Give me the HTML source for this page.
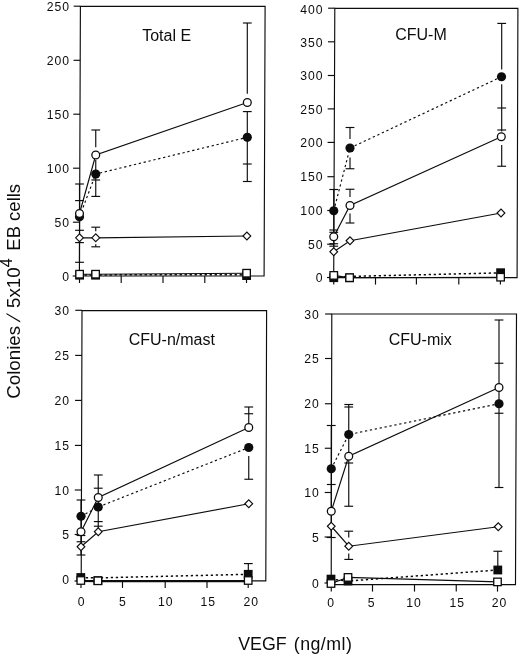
<!DOCTYPE html>
<html><head><meta charset="utf-8"><title>Figure</title>
<style>
html,body{margin:0;padding:0;background:#fff;}
svg{display:block;}
text{font-family:"Liberation Sans",sans-serif;fill:#0c0c0c;}
.tk{font-size:12.2px;letter-spacing:1px;}
.tt{font-size:16px;}
.ax{font-size:18.7px;}
.ax2{font-size:17.8px;}
</style></head><body>
<svg width="520" height="657" viewBox="0 0 520 657">
<rect width="520" height="657" fill="#fff"/>
<polygon points="80.4,6.3 265.1,6.3 264.1,276 79.4,276" fill="none" stroke="#0c0c0c" stroke-width="1.15"/>
<line x1="73.7" y1="6.2" x2="80.4" y2="6.2" stroke="#0c0c0c" stroke-width="1.15" />
<text x="70.1" y="10.9" text-anchor="end" class="tk">250</text>
<line x1="73.5" y1="60.3" x2="80.2" y2="60.3" stroke="#0c0c0c" stroke-width="1.15" />
<text x="70.1" y="65.0" text-anchor="end" class="tk">200</text>
<line x1="73.3" y1="114.2" x2="80.0" y2="114.2" stroke="#0c0c0c" stroke-width="1.15" />
<text x="70.1" y="118.9" text-anchor="end" class="tk">150</text>
<line x1="73.1" y1="168.2" x2="79.8" y2="168.2" stroke="#0c0c0c" stroke-width="1.15" />
<text x="70.1" y="172.9" text-anchor="end" class="tk">100</text>
<line x1="72.9" y1="222.2" x2="79.6" y2="222.2" stroke="#0c0c0c" stroke-width="1.15" />
<text x="70.1" y="226.9" text-anchor="end" class="tk">50</text>
<line x1="72.7" y1="276" x2="79.4" y2="276" stroke="#0c0c0c" stroke-width="1.15" />
<text x="70.1" y="280.7" text-anchor="end" class="tk">0</text>
<line x1="79.5" y1="276" x2="79.5" y2="283" stroke="#0c0c0c" stroke-width="1.15" />
<line x1="121.2" y1="276" x2="121.2" y2="283" stroke="#0c0c0c" stroke-width="1.15" />
<line x1="163" y1="276" x2="163" y2="283" stroke="#0c0c0c" stroke-width="1.15" />
<line x1="204.8" y1="276" x2="204.8" y2="283" stroke="#0c0c0c" stroke-width="1.15" />
<line x1="246.5" y1="276" x2="246.5" y2="283" stroke="#0c0c0c" stroke-width="1.15" />
<text x="142.2" y="40.5" class="tt">Total E</text>
<line x1="79.5" y1="184" x2="79.5" y2="262.3" stroke="#0c0c0c" stroke-width="1.15" />
<line x1="75.1" y1="184" x2="83.9" y2="184" stroke="#0c0c0c" stroke-width="1.15" />
<line x1="75.1" y1="200.6" x2="83.9" y2="200.6" stroke="#0c0c0c" stroke-width="1.15" />
<line x1="75.1" y1="230.3" x2="83.9" y2="230.3" stroke="#0c0c0c" stroke-width="1.15" />
<line x1="75.1" y1="242.6" x2="83.9" y2="242.6" stroke="#0c0c0c" stroke-width="1.15" />
<line x1="75.1" y1="262.3" x2="83.9" y2="262.3" stroke="#0c0c0c" stroke-width="1.15" />
<line x1="95.75" y1="130" x2="95.75" y2="147.2" stroke="#0c0c0c" stroke-width="1.15" />
<line x1="95.75" y1="160" x2="95.75" y2="196.4" stroke="#0c0c0c" stroke-width="1.15" />
<line x1="91.35" y1="130" x2="100.15" y2="130" stroke="#0c0c0c" stroke-width="1.15" />
<line x1="91.35" y1="180" x2="100.15" y2="180" stroke="#0c0c0c" stroke-width="1.15" />
<line x1="91.35" y1="196.4" x2="100.15" y2="196.4" stroke="#0c0c0c" stroke-width="1.15" />
<line x1="95.75" y1="227.2" x2="95.75" y2="231.2" stroke="#0c0c0c" stroke-width="1.15" />
<line x1="95.75" y1="244.3" x2="95.75" y2="246.8" stroke="#0c0c0c" stroke-width="1.15" />
<line x1="91.35" y1="227.2" x2="100.15" y2="227.2" stroke="#0c0c0c" stroke-width="1.15" />
<line x1="91.35" y1="246.8" x2="100.15" y2="246.8" stroke="#0c0c0c" stroke-width="1.15" />
<line x1="247.3" y1="23" x2="247.3" y2="93.7" stroke="#0c0c0c" stroke-width="1.15" />
<line x1="247.3" y1="111.4" x2="247.3" y2="181.5" stroke="#0c0c0c" stroke-width="1.15" />
<line x1="242.9" y1="23" x2="251.7" y2="23" stroke="#0c0c0c" stroke-width="1.15" />
<line x1="242.9" y1="111.6" x2="251.7" y2="111.6" stroke="#0c0c0c" stroke-width="1.15" />
<line x1="242.9" y1="164" x2="251.7" y2="164" stroke="#0c0c0c" stroke-width="1.15" />
<line x1="242.9" y1="181.5" x2="251.7" y2="181.5" stroke="#0c0c0c" stroke-width="1.15" />
<polyline points="79.6,274.9 95.6,274.9 246.6,274.7" fill="none" stroke="#0c0c0c" stroke-width="1.5" stroke-dasharray="2.3 2.7"/>
<polyline points="79.6,274.2 95.6,274.2 246.6,273.2" fill="none" stroke="#0c0c0c" stroke-width="1.15"/>
<polyline points="79.5,237.8 95.75,237.8 246.9,236" fill="none" stroke="#0c0c0c" stroke-width="1.15"/>
<polyline points="79.5,216.8 95.75,174 247.3,137.3" fill="none" stroke="#0c0c0c" stroke-width="1.15" stroke-dasharray="2.3 2.7"/>
<polyline points="79.5,213.5 95.75,155 247.3,102.5" fill="none" stroke="#0c0c0c" stroke-width="1.15"/>
<rect x="75.19999999999999" y="270.8" width="8.8" height="8.8" fill="#0c0c0c"/>
<rect x="91.19999999999999" y="270.8" width="8.8" height="8.8" fill="#0c0c0c"/>
<rect x="242.2" y="271.20000000000005" width="8.8" height="8.8" fill="#0c0c0c"/>
<rect x="75.85" y="270.45" width="7.5" height="7.5" fill="#fff" stroke="#0c0c0c" stroke-width="1.3"/>
<rect x="91.85" y="270.45" width="7.5" height="7.5" fill="#fff" stroke="#0c0c0c" stroke-width="1.3"/>
<rect x="242.85" y="269.45" width="7.5" height="7.5" fill="#fff" stroke="#0c0c0c" stroke-width="1.3"/>
<polygon points="75.6,237.8 79.5,233.9 83.4,237.8 79.5,241.70000000000002" fill="#fff" stroke="#0c0c0c" stroke-width="1.1"/>
<polygon points="91.85,237.8 95.75,233.9 99.65,237.8 95.75,241.70000000000002" fill="#fff" stroke="#0c0c0c" stroke-width="1.1"/>
<polygon points="243.0,236 246.9,232.1 250.8,236 246.9,239.9" fill="#fff" stroke="#0c0c0c" stroke-width="1.1"/>
<circle cx="79.5" cy="216.8" r="4.6" fill="#0c0c0c"/>
<circle cx="95.75" cy="174" r="4.6" fill="#0c0c0c"/>
<circle cx="247.3" cy="137.3" r="4.6" fill="#0c0c0c"/>
<circle cx="79.5" cy="213.5" r="3.9" fill="#fff" stroke="#0c0c0c" stroke-width="1.3"/>
<circle cx="95.75" cy="155" r="3.9" fill="#fff" stroke="#0c0c0c" stroke-width="1.3"/>
<circle cx="247.3" cy="102.5" r="3.9" fill="#fff" stroke="#0c0c0c" stroke-width="1.3"/>
<polygon points="334.8,8.3 517.9,8.3 517.1,277.6 333.7,277.6" fill="none" stroke="#0c0c0c" stroke-width="1.15"/>
<line x1="328.1" y1="8.2" x2="334.8" y2="8.2" stroke="#0c0c0c" stroke-width="1.15" />
<text x="323.6" y="14.4" text-anchor="end" class="tk">400</text>
<line x1="327.96" y1="41.8" x2="334.66" y2="41.8" stroke="#0c0c0c" stroke-width="1.15" />
<text x="323.6" y="46.5" text-anchor="end" class="tk">350</text>
<line x1="327.83" y1="75.5" x2="334.53" y2="75.5" stroke="#0c0c0c" stroke-width="1.15" />
<text x="323.6" y="80.2" text-anchor="end" class="tk">300</text>
<line x1="327.69" y1="108.9" x2="334.39" y2="108.9" stroke="#0c0c0c" stroke-width="1.15" />
<text x="323.6" y="113.6" text-anchor="end" class="tk">250</text>
<line x1="327.55" y1="142.4" x2="334.25" y2="142.4" stroke="#0c0c0c" stroke-width="1.15" />
<text x="323.6" y="147.1" text-anchor="end" class="tk">200</text>
<line x1="327.41" y1="176.7" x2="334.11" y2="176.7" stroke="#0c0c0c" stroke-width="1.15" />
<text x="323.6" y="181.4" text-anchor="end" class="tk">150</text>
<line x1="327.27" y1="210.5" x2="333.97" y2="210.5" stroke="#0c0c0c" stroke-width="1.15" />
<text x="323.6" y="215.2" text-anchor="end" class="tk">100</text>
<line x1="327.14" y1="244.2" x2="333.84" y2="244.2" stroke="#0c0c0c" stroke-width="1.15" />
<text x="323.6" y="248.9" text-anchor="end" class="tk">50</text>
<line x1="327.0" y1="277.5" x2="333.7" y2="277.5" stroke="#0c0c0c" stroke-width="1.15" />
<text x="323.6" y="282.2" text-anchor="end" class="tk">0</text>
<line x1="333.75" y1="277.6" x2="333.75" y2="284.6" stroke="#0c0c0c" stroke-width="1.15" />
<line x1="375.5" y1="277.6" x2="375.5" y2="284.6" stroke="#0c0c0c" stroke-width="1.15" />
<line x1="416.4" y1="277.6" x2="416.4" y2="284.6" stroke="#0c0c0c" stroke-width="1.15" />
<line x1="458.8" y1="277.6" x2="458.8" y2="284.6" stroke="#0c0c0c" stroke-width="1.15" />
<line x1="500.4" y1="277.6" x2="500.4" y2="284.6" stroke="#0c0c0c" stroke-width="1.15" />
<text x="395.2" y="39.5" class="tt">CFU-M</text>
<line x1="333.75" y1="189.5" x2="333.75" y2="246" stroke="#0c0c0c" stroke-width="1.15" />
<line x1="329.35" y1="189.5" x2="338.15" y2="189.5" stroke="#0c0c0c" stroke-width="1.15" />
<line x1="329.35" y1="230" x2="338.15" y2="230" stroke="#0c0c0c" stroke-width="1.15" />
<line x1="329.35" y1="232.3" x2="338.15" y2="232.3" stroke="#0c0c0c" stroke-width="1.15" />
<line x1="329.35" y1="243.75" x2="338.15" y2="243.75" stroke="#0c0c0c" stroke-width="1.15" />
<line x1="329.35" y1="246.2" x2="338.15" y2="246.2" stroke="#0c0c0c" stroke-width="1.15" />
<line x1="350" y1="127.5" x2="350" y2="139" stroke="#0c0c0c" stroke-width="1.15" />
<line x1="350" y1="157.5" x2="350" y2="168.75" stroke="#0c0c0c" stroke-width="1.15" />
<line x1="345.6" y1="127.5" x2="354.4" y2="127.5" stroke="#0c0c0c" stroke-width="1.15" />
<line x1="345.6" y1="168.75" x2="354.4" y2="168.75" stroke="#0c0c0c" stroke-width="1.15" />
<line x1="350" y1="189.25" x2="350" y2="197" stroke="#0c0c0c" stroke-width="1.15" />
<line x1="350" y1="213.5" x2="350" y2="223" stroke="#0c0c0c" stroke-width="1.15" />
<line x1="345.6" y1="189.25" x2="354.4" y2="189.25" stroke="#0c0c0c" stroke-width="1.15" />
<line x1="345.6" y1="223" x2="354.4" y2="223" stroke="#0c0c0c" stroke-width="1.15" />
<line x1="501.7" y1="23.4" x2="501.7" y2="69.5" stroke="#0c0c0c" stroke-width="1.15" />
<line x1="501.7" y1="84.3" x2="501.7" y2="131.5" stroke="#0c0c0c" stroke-width="1.15" />
<line x1="501.7" y1="145" x2="501.7" y2="166.25" stroke="#0c0c0c" stroke-width="1.15" />
<line x1="497.3" y1="23.4" x2="506.1" y2="23.4" stroke="#0c0c0c" stroke-width="1.15" />
<line x1="497.3" y1="108" x2="506.1" y2="108" stroke="#0c0c0c" stroke-width="1.15" />
<line x1="497.3" y1="130" x2="506.1" y2="130" stroke="#0c0c0c" stroke-width="1.15" />
<line x1="497.3" y1="166.25" x2="506.1" y2="166.25" stroke="#0c0c0c" stroke-width="1.15" />
<polyline points="333.75,277.2 349.6,276.4 500.6,272.9" fill="none" stroke="#0c0c0c" stroke-width="1.5" stroke-dasharray="2.3 2.7"/>
<polyline points="333.75,275.4 349.6,277.7 500.6,277.2" fill="none" stroke="#0c0c0c" stroke-width="1.15"/>
<polyline points="333.75,251.75 350,240.75 501,213" fill="none" stroke="#0c0c0c" stroke-width="1.15"/>
<polyline points="333.75,210.75 350,148 501.5,76.75" fill="none" stroke="#0c0c0c" stroke-width="1.15" stroke-dasharray="2.3 2.7"/>
<polyline points="333.75,236.75 350,205.5 501.3,136.75" fill="none" stroke="#0c0c0c" stroke-width="1.15"/>
<rect x="329.35" y="273.3" width="8.8" height="8.8" fill="#0c0c0c"/>
<rect x="345.20000000000005" y="273.40000000000003" width="8.8" height="8.8" fill="#0c0c0c"/>
<rect x="496.20000000000005" y="268.3" width="8.8" height="8.8" fill="#0c0c0c"/>
<rect x="330.0" y="271.65" width="7.5" height="7.5" fill="#fff" stroke="#0c0c0c" stroke-width="1.3"/>
<rect x="345.85" y="273.95" width="7.5" height="7.5" fill="#fff" stroke="#0c0c0c" stroke-width="1.3"/>
<rect x="496.85" y="273.45" width="7.5" height="7.5" fill="#fff" stroke="#0c0c0c" stroke-width="1.3"/>
<polygon points="329.85,251.75 333.75,247.85 337.65,251.75 333.75,255.65" fill="#fff" stroke="#0c0c0c" stroke-width="1.1"/>
<polygon points="346.1,240.75 350,236.85 353.9,240.75 350,244.65" fill="#fff" stroke="#0c0c0c" stroke-width="1.1"/>
<polygon points="497.1,213 501,209.1 504.9,213 501,216.9" fill="#fff" stroke="#0c0c0c" stroke-width="1.1"/>
<circle cx="333.75" cy="210.75" r="4.6" fill="#0c0c0c"/>
<circle cx="350" cy="148" r="4.6" fill="#0c0c0c"/>
<circle cx="501.5" cy="76.75" r="4.6" fill="#0c0c0c"/>
<circle cx="333.75" cy="236.75" r="3.9" fill="#fff" stroke="#0c0c0c" stroke-width="1.3"/>
<circle cx="350" cy="205.5" r="3.9" fill="#fff" stroke="#0c0c0c" stroke-width="1.3"/>
<circle cx="501.3" cy="136.75" r="3.9" fill="#fff" stroke="#0c0c0c" stroke-width="1.3"/>
<polygon points="82,310.6 266.6,310.6 265.8,580.9 81.2,580.9" fill="none" stroke="#0c0c0c" stroke-width="1.15"/>
<line x1="75.3" y1="310.3" x2="82.0" y2="310.3" stroke="#0c0c0c" stroke-width="1.15" />
<text x="70.1" y="315.0" text-anchor="end" class="tk">30</text>
<line x1="75.17" y1="355.4" x2="81.87" y2="355.4" stroke="#0c0c0c" stroke-width="1.15" />
<text x="70.1" y="360.1" text-anchor="end" class="tk">25</text>
<line x1="75.03" y1="400.4" x2="81.73" y2="400.4" stroke="#0c0c0c" stroke-width="1.15" />
<text x="70.1" y="405.1" text-anchor="end" class="tk">20</text>
<line x1="74.9" y1="445.4" x2="81.6" y2="445.4" stroke="#0c0c0c" stroke-width="1.15" />
<text x="70.1" y="450.1" text-anchor="end" class="tk">15</text>
<line x1="74.77" y1="490" x2="81.47" y2="490" stroke="#0c0c0c" stroke-width="1.15" />
<text x="70.1" y="494.7" text-anchor="end" class="tk">10</text>
<line x1="74.64" y1="534.5" x2="81.34" y2="534.5" stroke="#0c0c0c" stroke-width="1.15" />
<text x="70.1" y="539.2" text-anchor="end" class="tk">5</text>
<line x1="74.5" y1="581" x2="81.2" y2="581" stroke="#0c0c0c" stroke-width="1.15" />
<text x="70.1" y="584.4" text-anchor="end" class="tk">0</text>
<line x1="81" y1="580.9" x2="81" y2="587.9" stroke="#0c0c0c" stroke-width="1.15" />
<text x="81.7" y="605.5" text-anchor="middle" class="tk">0</text>
<line x1="122.5" y1="580.9" x2="122.5" y2="587.9" stroke="#0c0c0c" stroke-width="1.15" />
<text x="123.0" y="605.5" text-anchor="middle" class="tk">5</text>
<line x1="165.2" y1="580.9" x2="165.2" y2="587.9" stroke="#0c0c0c" stroke-width="1.15" />
<text x="165.7" y="605.5" text-anchor="middle" class="tk">10</text>
<line x1="207" y1="580.9" x2="207" y2="587.9" stroke="#0c0c0c" stroke-width="1.15" />
<text x="208.2" y="605.5" text-anchor="middle" class="tk">15</text>
<line x1="248.2" y1="580.9" x2="248.2" y2="587.9" stroke="#0c0c0c" stroke-width="1.15" />
<text x="251.2" y="605.5" text-anchor="middle" class="tk">20</text>
<text x="128.7" y="345" class="tt">CFU-n/mast</text>
<line x1="81" y1="500" x2="81" y2="555" stroke="#0c0c0c" stroke-width="1.15" />
<line x1="76.6" y1="500" x2="85.4" y2="500" stroke="#0c0c0c" stroke-width="1.15" />
<line x1="76.6" y1="535.5" x2="85.4" y2="535.5" stroke="#0c0c0c" stroke-width="1.15" />
<line x1="76.6" y1="541.75" x2="85.4" y2="541.75" stroke="#0c0c0c" stroke-width="1.15" />
<line x1="76.6" y1="555" x2="85.4" y2="555" stroke="#0c0c0c" stroke-width="1.15" />
<line x1="98.25" y1="475" x2="98.25" y2="528" stroke="#0c0c0c" stroke-width="1.15" />
<line x1="93.85" y1="475" x2="102.65" y2="475" stroke="#0c0c0c" stroke-width="1.15" />
<line x1="93.85" y1="488.2" x2="102.65" y2="488.2" stroke="#0c0c0c" stroke-width="1.15" />
<line x1="93.85" y1="521.6" x2="102.65" y2="521.6" stroke="#0c0c0c" stroke-width="1.15" />
<line x1="93.85" y1="526.2" x2="102.65" y2="526.2" stroke="#0c0c0c" stroke-width="1.15" />
<line x1="248.75" y1="407" x2="248.75" y2="423" stroke="#0c0c0c" stroke-width="1.15" />
<line x1="248.75" y1="456" x2="248.75" y2="479.25" stroke="#0c0c0c" stroke-width="1.15" />
<line x1="244.35" y1="407" x2="253.15" y2="407" stroke="#0c0c0c" stroke-width="1.15" />
<line x1="244.35" y1="413.75" x2="253.15" y2="413.75" stroke="#0c0c0c" stroke-width="1.15" />
<line x1="244.35" y1="479.25" x2="253.15" y2="479.25" stroke="#0c0c0c" stroke-width="1.15" />
<line x1="248.3" y1="563.6" x2="248.3" y2="573" stroke="#0c0c0c" stroke-width="1.15" />
<line x1="243.9" y1="563.6" x2="252.7" y2="563.6" stroke="#0c0c0c" stroke-width="1.15" />
<polyline points="80.8,577.7 97.9,577.9 248.2,574.3" fill="none" stroke="#0c0c0c" stroke-width="1.5" stroke-dasharray="2.3 2.7"/>
<polyline points="80.8,581.0 97.9,581.1 248.2,581.1" fill="none" stroke="#0c0c0c" stroke-width="2.2"/>
<polyline points="81,546.75 98.25,531.75 248.75,503.75" fill="none" stroke="#0c0c0c" stroke-width="1.15"/>
<polyline points="81,516.25 98.25,507 248.75,447.5" fill="none" stroke="#0c0c0c" stroke-width="1.15" stroke-dasharray="2.3 2.7"/>
<polyline points="81,531.75 98.25,497.5 248.75,427.5" fill="none" stroke="#0c0c0c" stroke-width="1.15"/>
<rect x="76.39999999999999" y="573.1" width="8.8" height="8.8" fill="#0c0c0c"/>
<rect x="93.5" y="576.2" width="8.8" height="8.8" fill="#0c0c0c"/>
<rect x="243.79999999999998" y="569.9" width="8.8" height="8.8" fill="#0c0c0c"/>
<rect x="77.05" y="576.75" width="7.5" height="7.5" fill="#fff" stroke="#0c0c0c" stroke-width="1.3"/>
<rect x="94.15" y="577.05" width="7.5" height="7.5" fill="#fff" stroke="#0c0c0c" stroke-width="1.3"/>
<rect x="244.45" y="576.75" width="7.5" height="7.5" fill="#fff" stroke="#0c0c0c" stroke-width="1.3"/>
<polygon points="77.1,546.75 81,542.85 84.9,546.75 81,550.65" fill="#fff" stroke="#0c0c0c" stroke-width="1.1"/>
<polygon points="94.35,531.75 98.25,527.85 102.15,531.75 98.25,535.65" fill="#fff" stroke="#0c0c0c" stroke-width="1.1"/>
<polygon points="244.85,503.75 248.75,499.85 252.65,503.75 248.75,507.65" fill="#fff" stroke="#0c0c0c" stroke-width="1.1"/>
<circle cx="81" cy="516.25" r="4.6" fill="#0c0c0c"/>
<circle cx="98.25" cy="507" r="4.6" fill="#0c0c0c"/>
<circle cx="248.75" cy="447.5" r="4.6" fill="#0c0c0c"/>
<circle cx="81" cy="531.75" r="3.9" fill="#fff" stroke="#0c0c0c" stroke-width="1.3"/>
<circle cx="98.25" cy="497.5" r="3.9" fill="#fff" stroke="#0c0c0c" stroke-width="1.3"/>
<circle cx="248.75" cy="427.5" r="3.9" fill="#fff" stroke="#0c0c0c" stroke-width="1.3"/>
<polygon points="331.8,314 516.5,314 515.5,584.6 331.2,584.6" fill="none" stroke="#0c0c0c" stroke-width="1.15"/>
<line x1="325.1" y1="314" x2="331.8" y2="314" stroke="#0c0c0c" stroke-width="1.15" />
<text x="319.85" y="318.7" text-anchor="end" class="tk">30</text>
<line x1="325.0" y1="358.5" x2="331.7" y2="358.5" stroke="#0c0c0c" stroke-width="1.15" />
<text x="319.85" y="363.2" text-anchor="end" class="tk">25</text>
<line x1="324.9" y1="403.75" x2="331.6" y2="403.75" stroke="#0c0c0c" stroke-width="1.15" />
<text x="319.85" y="408.45" text-anchor="end" class="tk">20</text>
<line x1="324.8" y1="448.25" x2="331.5" y2="448.25" stroke="#0c0c0c" stroke-width="1.15" />
<text x="319.85" y="452.95" text-anchor="end" class="tk">15</text>
<line x1="324.7" y1="492.5" x2="331.4" y2="492.5" stroke="#0c0c0c" stroke-width="1.15" />
<text x="319.85" y="497.2" text-anchor="end" class="tk">10</text>
<line x1="324.61" y1="537" x2="331.31" y2="537" stroke="#0c0c0c" stroke-width="1.15" />
<text x="319.85" y="541.7" text-anchor="end" class="tk">5</text>
<line x1="324.5" y1="583" x2="331.2" y2="583" stroke="#0c0c0c" stroke-width="1.15" />
<text x="319.85" y="587.7" text-anchor="end" class="tk">0</text>
<line x1="331.25" y1="584.6" x2="331.25" y2="591.6" stroke="#0c0c0c" stroke-width="1.15" />
<text x="331.2" y="606.5" text-anchor="middle" class="tk">0</text>
<line x1="372.5" y1="584.6" x2="372.5" y2="591.6" stroke="#0c0c0c" stroke-width="1.15" />
<text x="371.7" y="606.5" text-anchor="middle" class="tk">5</text>
<line x1="414.5" y1="584.6" x2="414.5" y2="591.6" stroke="#0c0c0c" stroke-width="1.15" />
<text x="414.1" y="606.5" text-anchor="middle" class="tk">10</text>
<line x1="456.25" y1="584.6" x2="456.25" y2="591.6" stroke="#0c0c0c" stroke-width="1.15" />
<text x="457.2" y="606.5" text-anchor="middle" class="tk">15</text>
<line x1="497.5" y1="584.6" x2="497.5" y2="591.6" stroke="#0c0c0c" stroke-width="1.15" />
<text x="499.5" y="606.5" text-anchor="middle" class="tk">20</text>
<text x="388.7" y="345.3" class="tt">CFU-mix</text>
<line x1="331.25" y1="425.5" x2="331.25" y2="537.5" stroke="#0c0c0c" stroke-width="1.15" />
<line x1="326.85" y1="425.5" x2="335.65" y2="425.5" stroke="#0c0c0c" stroke-width="1.15" />
<line x1="326.85" y1="484.5" x2="335.65" y2="484.5" stroke="#0c0c0c" stroke-width="1.15" />
<line x1="326.85" y1="537.5" x2="335.65" y2="537.5" stroke="#0c0c0c" stroke-width="1.15" />
<line x1="348.75" y1="404.5" x2="348.75" y2="506.25" stroke="#0c0c0c" stroke-width="1.15" />
<line x1="344.35" y1="404.5" x2="353.15" y2="404.5" stroke="#0c0c0c" stroke-width="1.15" />
<line x1="344.35" y1="407" x2="353.15" y2="407" stroke="#0c0c0c" stroke-width="1.15" />
<line x1="344.35" y1="463" x2="353.15" y2="463" stroke="#0c0c0c" stroke-width="1.15" />
<line x1="344.35" y1="506.25" x2="353.15" y2="506.25" stroke="#0c0c0c" stroke-width="1.15" />
<line x1="348.75" y1="531.2" x2="348.75" y2="537.5" stroke="#0c0c0c" stroke-width="1.15" />
<line x1="348.75" y1="553.4" x2="348.75" y2="559.4" stroke="#0c0c0c" stroke-width="1.15" />
<line x1="344.35" y1="531.2" x2="353.15" y2="531.2" stroke="#0c0c0c" stroke-width="1.15" />
<line x1="344.35" y1="559.4" x2="353.15" y2="559.4" stroke="#0c0c0c" stroke-width="1.15" />
<line x1="499" y1="320" x2="499" y2="487.5" stroke="#0c0c0c" stroke-width="1.15" />
<line x1="494.6" y1="320" x2="503.4" y2="320" stroke="#0c0c0c" stroke-width="1.15" />
<line x1="494.6" y1="363.25" x2="503.4" y2="363.25" stroke="#0c0c0c" stroke-width="1.15" />
<line x1="494.6" y1="413.25" x2="503.4" y2="413.25" stroke="#0c0c0c" stroke-width="1.15" />
<line x1="494.6" y1="487.5" x2="503.4" y2="487.5" stroke="#0c0c0c" stroke-width="1.15" />
<line x1="497.8" y1="551.25" x2="497.8" y2="570" stroke="#0c0c0c" stroke-width="1.15" />
<line x1="493.4" y1="551.25" x2="502.2" y2="551.25" stroke="#0c0c0c" stroke-width="1.15" />
<polyline points="331,579.1 348,581 497.8,570" fill="none" stroke="#0c0c0c" stroke-width="1.5" stroke-dasharray="2.3 2.7"/>
<polyline points="331,583.5 348,577.4 497.5,581.9" fill="none" stroke="#0c0c0c" stroke-width="1.15"/>
<polyline points="331.25,526.25 348.75,546.25 498.25,526.75" fill="none" stroke="#0c0c0c" stroke-width="1.15"/>
<polyline points="331.25,468.75 348.75,434.5 499,403.75" fill="none" stroke="#0c0c0c" stroke-width="1.15" stroke-dasharray="2.3 2.7"/>
<polyline points="331.25,511.25 348.75,456.25 499,387.5" fill="none" stroke="#0c0c0c" stroke-width="1.15"/>
<rect x="326.6" y="574.7" width="8.8" height="8.8" fill="#0c0c0c"/>
<rect x="343.6" y="576.6" width="8.8" height="8.8" fill="#0c0c0c"/>
<rect x="493.40000000000003" y="565.6" width="8.8" height="8.8" fill="#0c0c0c"/>
<rect x="327.25" y="579.75" width="7.5" height="7.5" fill="#fff" stroke="#0c0c0c" stroke-width="1.3"/>
<rect x="344.25" y="573.65" width="7.5" height="7.5" fill="#fff" stroke="#0c0c0c" stroke-width="1.3"/>
<rect x="493.75" y="578.15" width="7.5" height="7.5" fill="#fff" stroke="#0c0c0c" stroke-width="1.3"/>
<polygon points="327.35,526.25 331.25,522.35 335.15,526.25 331.25,530.15" fill="#fff" stroke="#0c0c0c" stroke-width="1.1"/>
<polygon points="344.85,546.25 348.75,542.35 352.65,546.25 348.75,550.15" fill="#fff" stroke="#0c0c0c" stroke-width="1.1"/>
<polygon points="494.35,526.75 498.25,522.85 502.15,526.75 498.25,530.65" fill="#fff" stroke="#0c0c0c" stroke-width="1.1"/>
<circle cx="331.25" cy="468.75" r="4.6" fill="#0c0c0c"/>
<circle cx="348.75" cy="434.5" r="4.6" fill="#0c0c0c"/>
<circle cx="499" cy="403.75" r="4.6" fill="#0c0c0c"/>
<circle cx="331.25" cy="511.25" r="3.9" fill="#fff" stroke="#0c0c0c" stroke-width="1.3"/>
<circle cx="348.75" cy="456.25" r="3.9" fill="#fff" stroke="#0c0c0c" stroke-width="1.3"/>
<circle cx="499" cy="387.5" r="3.9" fill="#fff" stroke="#0c0c0c" stroke-width="1.3"/>
<g transform="translate(19.8,397.8) rotate(-90)" class="ax" id="yl"><text x="-0.9" y="0">Colonies</text><text transform="translate(75.4,0) skewX(-18)">/</text><text x="89.8" y="0">5x10</text><text x="130.6" y="-8.2" font-size="16">4</text><text x="147.1" y="0" font-size="18.5">EB cells</text></g>
<text x="238.2" y="649.8" class="ax2" id="xl">VEGF</text><text x="293.8" y="649.8" class="ax2" letter-spacing="0.45">(ng/ml)</text>
</svg>
</body></html>
